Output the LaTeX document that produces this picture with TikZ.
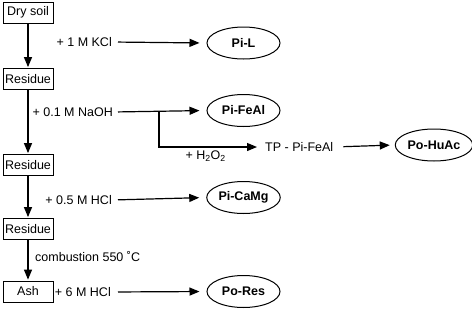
\documentclass[tikz,border=0pt]{standalone}
\usepackage{fontspec}
\setmainfont{Liberation Sans}
\usetikzlibrary{arrows.meta,shapes.geometric}
\begin{document}
\begin{tikzpicture}[x=1pt,y=-1pt,
  font=\fontsize{12.5}{15}\selectfont,
  box/.style={draw,line width=0.8pt,minimum width=50pt,minimum height=21pt,inner sep=2pt},
  pool/.style={draw,ellipse,line width=1pt,minimum width=73pt,minimum height=32pt,inner sep=1pt,font=\fontsize{12.5}{15}\selectfont\bfseries},
  lbl/.style={inner sep=0pt},
  arr/.style={line width=1.2pt,-{Triangle[length=10pt,width=8pt]}},
  ln/.style={line width=1.2pt}]
\useasboundingbox (0,0) rectangle (472,314);
% boxes
\node[box] (dry) at (28,12.5) {Dry soil};
\node[box] (r1) at (28,79) {Residue};
\node[box] (r2) at (28,165) {Residue};
\node[box] (r3) at (28,229) {Residue};
\node[box] (ash) at (28,291.5) {Ash};
% pools
\node[pool] (pil) at (243.5,43) {Pi-L};
\node[pool] (pife) at (243.5,110.5) {Pi-FeAl};
\node[pool] (pica) at (243.5,197.5) {Pi-CaMg};
\node[pool] (pohu) at (434,145) {Po-HuAc};
\node[pool] (pores) at (243.5,291.5) {Po-Res};
% labels
\node[lbl,anchor=east] (kcl) at (112,42) {+ 1 M KCl};
\node[lbl,anchor=east] (naoh) at (113,112) {+ 0.1 M NaOH};
\node[lbl,anchor=east] (hcl) at (112,200) {+ 0.5 M HCl};
\node[lbl,anchor=east] (hcl6) at (111,292) {+ 6 M HCl};
\node[lbl,anchor=west] (comb) at (35,257) {combustion 550 ˚C};
\node[lbl,anchor=west] (tp) at (265,147) {TP - Pi-FeAl};
\coordinate (br) at (159,112);
% vertical arrows
\draw[arr,shorten >=1pt] (dry) -- (r1);
\draw[arr,shorten >=1pt] (r1) -- (r2);
\draw[arr,shorten >=1pt] (r2) -- (r3);
\draw[arr,shorten >=1pt] (r3) -- (ash);
% horizontal arrows
\draw[arr,shorten <=6pt,shorten >=7pt] (kcl.east) -- (pil.west);
\draw[arr,shorten <=5pt,shorten >=7pt] (naoh.east) -- (pife.west);
\draw[arr,shorten <=6pt,shorten >=7pt] (hcl.east) -- (pica.west);
\draw[arr,shorten <=7pt,shorten >=7pt] (hcl6.east) -- (pores.west);
\draw[arr,shorten >=8pt] (br) |- node[pos=0.72,below=3pt,lbl,font=\fontsize{12.5}{15}\selectfont] {+ H\textsubscript{2}O\textsubscript{2}} (tp.west);
\draw[arr,shorten <=10pt,shorten >=5pt] (tp.east) -- (pohu.west);
\end{tikzpicture}
\end{document}
